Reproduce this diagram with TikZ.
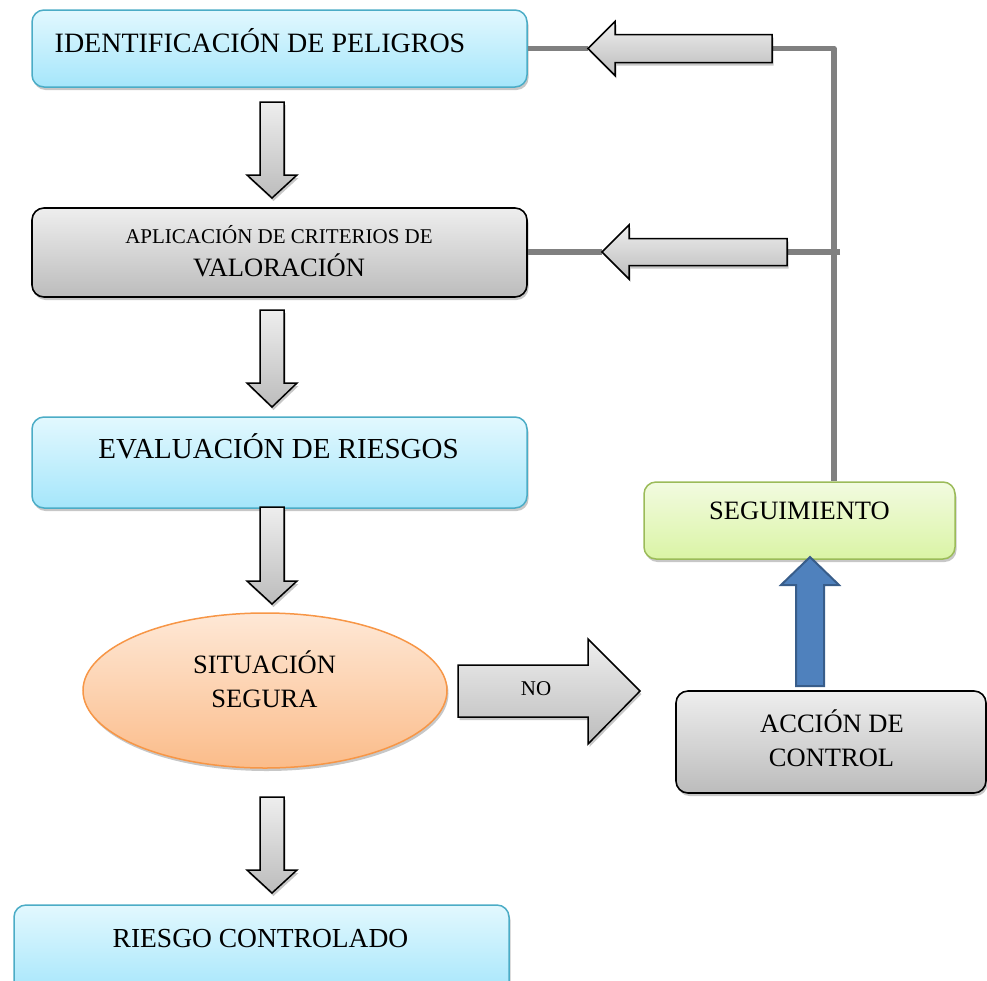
\documentclass[tikz,border=0pt]{standalone}
\usepackage{fontspec}
\setmainfont{Liberation Serif}
\usetikzlibrary{shapes.geometric,shadows}
\definecolor{bluetop}{RGB}{226,248,254}
\definecolor{bluebot}{RGB}{165,230,251}
\definecolor{bluebd}{RGB}{75,172,198}
\definecolor{graytop}{RGB}{238,238,238}
\definecolor{graybot}{RGB}{188,188,188}
\definecolor{greentop}{RGB}{242,251,224}
\definecolor{greenbot}{RGB}{218,244,165}
\definecolor{greenbd}{RGB}{155,187,89}
\definecolor{orangetop}{RGB}{254,232,214}
\definecolor{orangebot}{RGB}{251,188,138}
\definecolor{orangebd}{RGB}{247,150,70}
\definecolor{connc}{RGB}{128,128,128}
\definecolor{bluear}{RGB}{79,129,189}
\definecolor{bluearbd}{RGB}{56,93,138}
\begin{document}
\begin{tikzpicture}[x=1pt,y=-1pt,
  shadowed/.style={drop shadow={shadow xshift=1.5pt,shadow yshift=-3pt,opacity=0.22,fill=black}},
  boxbase/.style={rectangle,rounded corners=12pt,inner sep=0pt,shadowed},
  bluebox/.style={boxbase,draw=bluebd,line width=1.5pt,top color=bluetop,bottom color=bluebot},
  graybox/.style={boxbase,draw=black,line width=1.6pt,top color=graytop,bottom color=graybot},
  greenbox/.style={boxbase,draw=greenbd,line width=1.5pt,top color=greentop,bottom color=greenbot},
  orangeell/.style={ellipse,inner sep=0pt,draw=orangebd,line width=1.5pt,top color=orangetop,bottom color=orangebot,shadowed},
  lbl/.style={anchor=base,inner sep=0pt},
  blk/.style={draw=black,line width=1.5pt,top color=graytop,bottom color=graybot,line join=miter,shadowed},
  conn/.style={draw=connc,line width=5.5pt,line join=round},
  bluearrow/.style={draw=bluearbd,line width=2pt,fill=bluear,line join=miter}
]
\useasboundingbox (0,0) rectangle (987,980);

% boxes
\node[bluebox,minimum width=495,minimum height=77] (b1) at (279.5,48.5) {};
\node[graybox,minimum width=495,minimum height=89] (b2) at (279.5,252.5) {};
\node[bluebox,minimum width=495,minimum height=91] (b3) at (279.5,462.5) {};
\node[orangeell,minimum width=364,minimum height=155] (sit) at (265,690.5) {};
\node[bluebox,minimum width=495,minimum height=90] (b5) at (261.5,950) {};
\node[greenbox,minimum width=311,minimum height=77] (seg) at (799.5,520.5) {};
\node[graybox,minimum width=310,minimum height=102] (acc) at (831,742) {};

% texts
\node[lbl,font=\fontsize{28}{32}\selectfont] (t1) at (260,52) {IDENTIFICACIÓN DE PELIGROS};
\node[lbl,font=\fontsize{21}{24}\selectfont] (t2a) at (279,243) {APLICACIÓN DE CRITERIOS DE};
\node[lbl,font=\fontsize{26.5}{30}\selectfont] (t2b) at (279,276) {VALORACIÓN};
\node[lbl,font=\fontsize{29}{32}\selectfont] (t3) at (278.5,458) {EVALUACIÓN DE RIESGOS};
\node[lbl,font=\fontsize{26.5}{30}\selectfont] (t4a) at (264.5,673) {SITUACIÓN};
\node[lbl,font=\fontsize{26.5}{30}\selectfont] (t4b) at (264.5,707) {SEGURA};
\node[lbl,font=\fontsize{27.5}{30}\selectfont] (t5) at (260.5,947) {RIESGO CONTROLADO};
\node[lbl,font=\fontsize{26.5}{30}\selectfont] (t6) at (799.5,519) {SEGUIMIENTO};
\node[lbl,font=\fontsize{26.5}{30}\selectfont] (t7a) at (832,732) {ACCIÓN DE};
\node[lbl,font=\fontsize{26.5}{30}\selectfont] (t7b) at (831.5,766) {CONTROL};

% feedback connectors
\coordinate (k1) at (834,48.5);
\coordinate (k2) at (840,252);
\coordinate (a1tail) at (772,48.5);
\coordinate (a1tip) at (588,48.5);
\coordinate (a2tail) at (787,252);
\coordinate (a2tip) at (602,252);
\draw[conn] (seg.north -| k1) -- (k1) -- (a1tail);
\draw[conn] (a1tip) -- (b1.east |- a1tip);
\draw[conn] (k2) -- (a2tail);
\draw[conn] (a2tip) -- (b2.east |- a2tip);

% left block arrows
\draw[blk] (a1tail) ++(0,-14) -- ++(0,28) -- (615,62.5) -- (615,75.5) -- (a1tip) -- (615,21.5) -- (615,34.5) -- cycle;
\draw[blk] (a2tail) ++(0,-13.5) -- ++(0,27) -- (629,265.5) -- (629,279) -- (a2tip) -- (629,225) -- (629,238.5) -- cycle;

% down block arrows
\draw[blk,shift={(272,102)}] (-12,0) -- (12,0) -- (12,73) -- (25,73) -- (0,96) -- (-25,73) -- (-12,73) -- cycle;
\draw[blk,shift={(272,310)}] (-12,0) -- (12,0) -- (12,73) -- (25,73) -- (0,97) -- (-25,73) -- (-12,73) -- cycle;
\draw[blk,shift={(272,507)}] (-12,0) -- (12,0) -- (12,74) -- (25,74) -- (0,97) -- (-25,74) -- (-12,74) -- cycle;
\draw[blk,shift={(272,797)}] (-12,0) -- (12,0) -- (12,73) -- (25,73) -- (0,96) -- (-25,73) -- (-12,73) -- cycle;

% NO arrow
\draw[blk] (458,665) -- (588,665) -- (588,639) -- (640,691) -- (588,744) -- (588,717) -- (458,717) -- cycle;
\node[lbl,font=\fontsize{21}{24}\selectfont] (tno) at (536,695) {NO};

% blue arrow from ACCION DE CONTROL up to SEGUIMIENTO
\draw[bluearrow] (796,686) -- (824,686) -- (824,585) -- (839,585) -- (810,557) -- (781,585) -- (796,585) -- cycle;
\end{tikzpicture}
\end{document}
